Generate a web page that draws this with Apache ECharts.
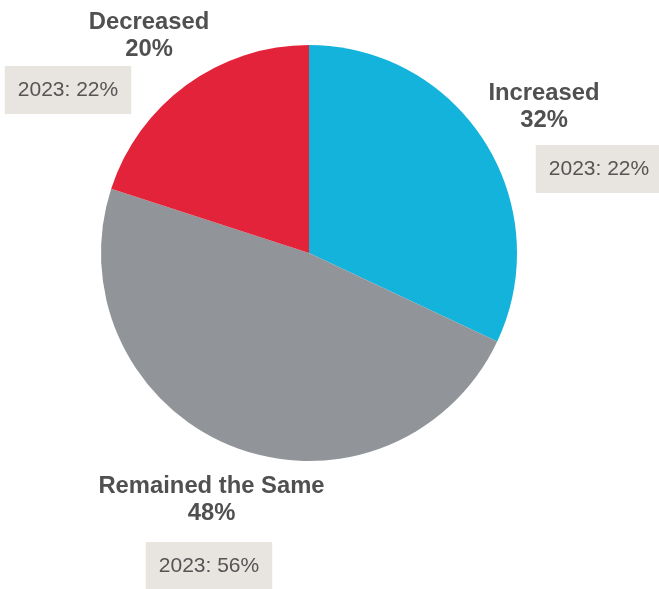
<!DOCTYPE html>
<html>
<head>
<meta charset="utf-8">
<script src="https://cdn.jsdelivr.net/npm/echarts@6/dist/echarts.min.js"></script>
<style>
  html, body { margin: 0; padding: 0; background: #fff; }
  #chart { width: 659px; height: 589px; }
</style>
</head>
<body>
<div id="chart"></div>
<script>
// Survey answers: share of respondents, current year vs 2023
const categories = ['Increased', 'Remained the Same', 'Decreased'];
const shares = [32, 48, 20];
const shares2023 = [22, 56, 22];
const colors = ['#13b3dc', '#919599', '#e3233a'];

// Label anchor points (px) for the category labels and the 2023 comparison boxes
const labelPos = [[544, 106.5], [211.5, 500], [149, 35.5]];
const boxPos = [[599, 169], [209, 566], [68, 90]];

const data = categories.map((name, i) => ({
  name: name,
  value: shares[i],
  itemStyle: { color: colors[i] }
}));

const FONT = 'Liberation Sans, Arial, sans-serif';

const chart = echarts.init(document.getElementById('chart'), null, { renderer: 'canvas' });
chart.setOption({
  animation: false,
  series: [
    {
      type: 'pie',
      center: [309, 253],
      radius: 208,
      startAngle: 90,
      clockwise: true,
      data: data,
      label: {
        show: true,
        position: 'inside',
        formatter: p => p.name + '\n' + p.value + '%',
        fontFamily: FONT,
        fontSize: 23.8,
        fontWeight: 'bold',
        lineHeight: 27,
        color: '#505050',
        align: 'center',
        overflow: 'none'
      },
      labelLine: { show: false },
      labelLayout: p => ({
        x: labelPos[p.dataIndex][0],
        y: labelPos[p.dataIndex][1],
        align: 'center',
        verticalAlign: 'middle'
      }),
      emphasis: { disabled: true }
    },
    {
      type: 'pie',
      center: [309, 253],
      radius: 208,
      startAngle: 90,
      clockwise: true,
      silent: true,
      data: data.map(d => ({ name: d.name, value: d.value, itemStyle: { color: 'transparent' } })),
      label: {
        show: true,
        position: 'inside',
        formatter: p => '2023: ' + shares2023[p.dataIndex] + '%',
        fontFamily: FONT,
        fontSize: 21,
        color: '#555555',
        backgroundColor: '#e8e4df',
        padding: [14, 13, 13, 13],
        overflow: 'none'
      },
      labelLine: { show: false },
      labelLayout: p => ({
        x: boxPos[p.dataIndex][0],
        y: boxPos[p.dataIndex][1],
        align: 'center',
        verticalAlign: 'middle'
      }),
      emphasis: { disabled: true }
    }
  ]
});
</script>
</body>
</html>
